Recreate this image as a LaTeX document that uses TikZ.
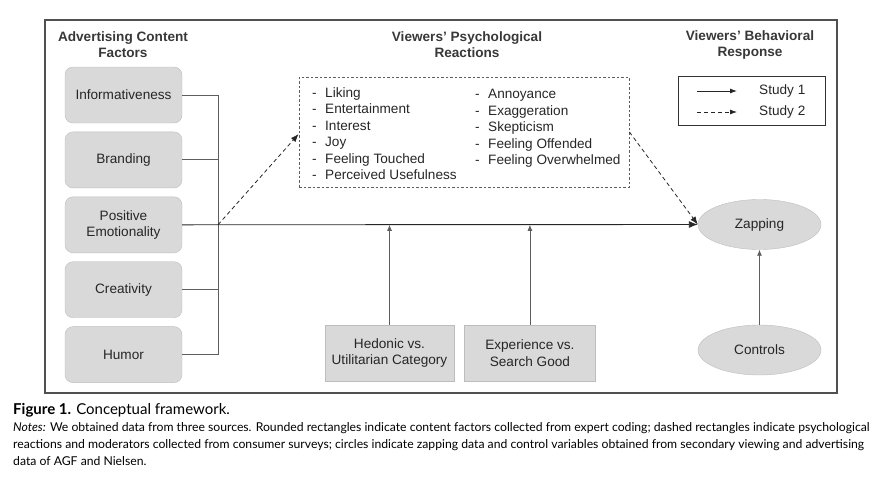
\documentclass[tikz,border=0pt]{standalone}
\usepackage{fontspec}
\setmainfont{Liberation Sans}
\newfontfamily\capfont{Lato}
\usetikzlibrary{positioning,arrows.meta,shapes.geometric}
\definecolor{boxgrey}{HTML}{D9D9D9}
\definecolor{edgegrey}{HTML}{BDBDBD}
\definecolor{linegrey}{HTML}{5E5E5E}
\definecolor{framegrey}{HTML}{505050}
\definecolor{textdark}{HTML}{262626}
\newcommand{\litem}[1]{\makebox[13pt][l]{-}#1}

\begin{document}
\begin{tikzpicture}[x=1pt, y=-1pt,
    font=\fontsize{13.6}{16.5}\selectfont, text=textdark,
    factorBox/.style={rectangle, rounded corners=8pt, draw=edgegrey, fill=boxgrey, minimum width=117pt, minimum height=56pt, inner sep=2pt, align=center},
    modBox/.style={rectangle, draw=edgegrey, fill=boxgrey, minimum width=129pt, minimum height=56pt, inner sep=2pt, align=center},
    outcomeEll/.style={ellipse, draw=edgegrey, fill=boxgrey, minimum width=123pt, minimum height=50pt, inner sep=0pt},
    headText/.style={font=\fontsize{13.6}{16}\selectfont\bfseries, text=framegrey!70!black, align=center},
    listText/.style={anchor=north west, inner sep=0pt, align=left},
    linkLine/.style={draw=linegrey, line width=0.9pt},
    arrowMain/.style={-{Latex[length=9pt,width=7pt]}, draw=black!85, line width=0.9pt},
    arrowDash/.style={-{Latex[length=8pt,width=6pt]}, draw=black!85, line width=0.8pt, dash pattern=on 4pt off 3pt},
    arrowMod/.style={-{Latex[length=6pt,width=5pt]}, draw=linegrey, line width=0.8pt},
    capText/.style={font=\capfont\fontsize{12.2}{17}\selectfont, text=black, anchor=north west, inner sep=0pt, align=left}
]
    \useasboundingbox (0,0) rectangle (881,483);
    \draw[framegrey, line width=1.3pt] (45,20) rectangle (837,393);

    % column headings
    \node[headText] (hFactors) at (123,45) {Advertising Content\\Factors};
    \node[headText] (hReact) at (467,45) {Viewers’ Psychological\\Reactions};
    \node[headText] (hResp) at (750,45) {Viewers’ Behavioral\\Response};

    % content factors
    \node[factorBox] (info) at (123.5,95) {Informativeness};
    \node[factorBox, below=8.5pt of info] (brand) {Branding};
    \node[factorBox, below=8.5pt of brand] (posEmo) {Positive\\Emotionality};
    \node[factorBox, below=8.5pt of posEmo] (creat) {Creativity};
    \node[factorBox, below=8.5pt of creat] (humor) {Humor};

    % psychological reactions
    \node[rectangle, draw=linegrey, dash pattern=on 2.5pt off 2pt, line width=0.8pt, minimum width=330pt, minimum height=110pt] (reactBox) at (464,132) {};
    \node[listText] (posList) at (312,87) {\litem{Liking}\\\litem{Entertainment}\\\litem{Interest}\\\litem{Joy}\\\litem{Feeling Touched}\\\litem{Perceived Usefulness}};
    \node[listText] (negList) at (475,89) {\litem{Annoyance}\\\litem{Exaggeration}\\\litem{Skepticism}\\\litem{Feeling Offended}\\\litem{Feeling Overwhelmed}};

    % moderators
    \node[modBox] (hedonic) at (389.5,353) {Hedonic vs.\\Utilitarian Category};
    \node[modBox, right=10pt of hedonic, minimum width=131pt] (experience) {Experience vs.\\Search Good};

    % behavioral response
    \node[outcomeEll] (zapping) at (759.5,224.5) {Zapping};
    \node[outcomeEll] (controls) at (759.5,350) {Controls};

    % legend
    \node[rectangle, draw=black!80, line width=0.9pt, minimum width=147pt, minimum height=49pt] (legend) at (751.5,100.5) {};
    \coordinate (s1a) at (697,91);
    \coordinate (s1b) at (737,91);
    \coordinate (s2a) at (697,112);
    \coordinate (s2b) at (737,112);
    \node[anchor=west, inner sep=0pt] (study1) at (759,91) {Study 1};
    \node[anchor=west, inner sep=0pt] (study2) at (759,112) {Study 2};
    \draw[arrowMain, -{Latex[length=7pt,width=5pt]}] (s1a) -- (s1b);
    \draw[arrowDash, -{Latex[length=7pt,width=5pt]}] (s2a) -- (s2b);

    % bracket joining the factors
    \coordinate (hub) at (218,224);
    \draw[linkLine] (info.east) -- (info.east -| hub) -- (humor.east -| hub) -- (humor.east);
    \draw[linkLine] (brand.east) -- (brand.east -| hub);
    \draw[linkLine] (creat.east) -- (creat.east -| hub);

    % paths
    \draw[arrowMain] (posEmo.east) -- (zapping.west);
    \draw[arrowDash] (posEmo.east -| hub) -- ([yshift=-2pt]reactBox.west);
    \draw[arrowDash] (reactBox.east) -- (zapping.west);
    \draw[arrowMod] (hedonic.north) -- (hedonic.north |- posEmo.east);
    \draw[arrowMod] (experience.north) -- (experience.north |- posEmo.east);
    \draw[arrowMod] (controls.north) -- (zapping.south);

    % caption
    \node[capText, font=\capfont\fontsize{15}{18}\selectfont] (figCap) at (13,403) {\textbf{Figure 1.} Conceptual framework.};
    \node[capText] (notes) at (13,422) {\textit{Notes:} We obtained data from three sources. Rounded rectangles indicate content factors collected from expert coding; dashed rectangles indicate psychological\\reactions and moderators collected from consumer surveys; circles indicate zapping data and control variables obtained from secondary viewing and advertising\\data of AGF and Nielsen.};
\end{tikzpicture}
\end{document}
